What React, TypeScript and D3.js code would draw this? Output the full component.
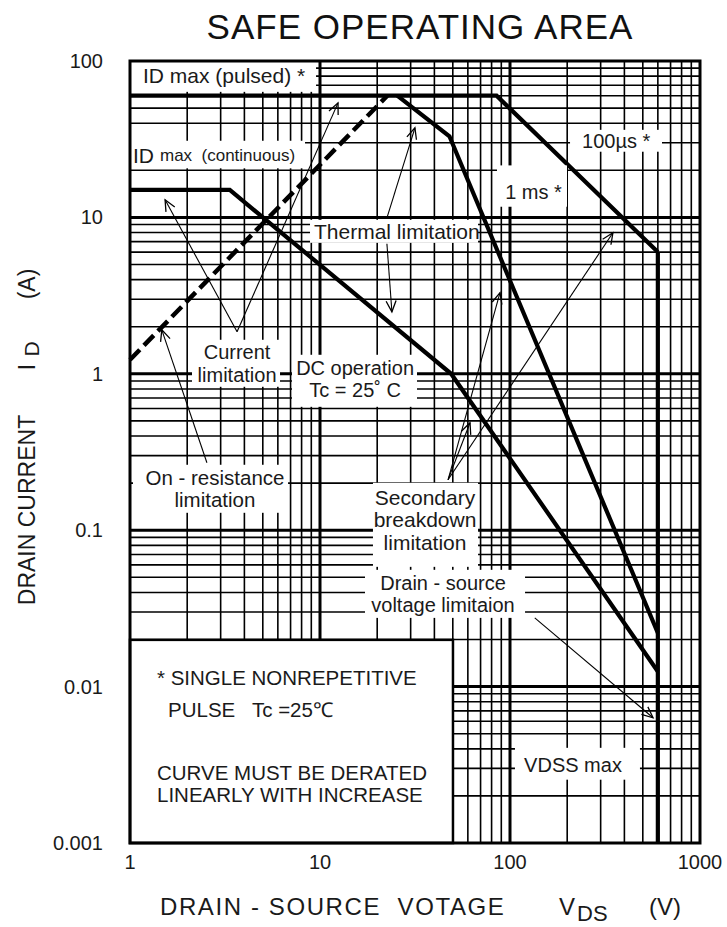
import React from "react";
import * as d3 from "d3";

const W = 727;
const H = 927;
const FONT = "'Liberation Sans', Arial, sans-serif";

// axis ticks
const xTicks = [1, 10, 100, 1000];
const xTickLabels = ["1", "10", "100", "1000"];
const yTicks = [100, 10, 1, 0.1, 0.01, 0.001];
const yTickLabels = ["100", "10", "1", "0.1", "0.01", "0.001"];
const xDecades = [1, 10, 100];
const yDecades = [0.001, 0.01, 0.1, 1, 10];
const minorSteps = [2, 3, 4, 5, 6, 7, 8, 9];

// SOA curves (VDS [V], ID [A])
const curve100us: [number, number][] = [[1, 60], [85, 60], [600, 6]];
const curve1ms: [number, number][] = [[25.5, 60], [48, 33], [600, 0.022]];
const curveDC: [number, number][] = [[1, 15], [3.35, 15], [49, 1], [600, 0.0125]];
const curveOnRes: [number, number][] = [[1, 1.23], [22.6, 60]];
const curveVdss: [number, number][] = [[600, 6], [600, 0.001]];

// white label boxes [x0, x1, y0, y1] in data coords
const boxes: [number, number, number, number][] = [
  [1, 9.53, 63.5, 100],
  [1, 8.34, 20.6, 30.9],
  [8.86, 67.9, 6.88, 9.65],
  [207, 631, 26.3, 36.3],
  [85.4, 199.5, 11.7, 21.5],
  [2.12, 6.16, 0.826, 1.65],
  [7.12, 32.4, 0.615, 1.323],
  [1.037, 6.79, 0.1292, 0.262],
  [19.0, 67.9, 0.0583, 0.201],
  [17.25, 120, 0.0275, 0.0558],
  [106.2, 483, 0.00254, 0.00406],
];

type Label = { x: number; y: number; t: string; size: number; anchor: string };
const labels: Label[] = [
  { x: 1.171, y: 81, t: "ID max (pulsed) *", size: 21, anchor: "start" },
  { x: 362, y: 31, t: "100µs *", size: 20, anchor: "middle" },
  { x: 133, y: 14.6, t: "1 ms *", size: 20, anchor: "middle" },
  { x: 9.3, y: 8.09, t: "Thermal limitation", size: 21, anchor: "start" },
  { x: 3.66, y: 1.383, t: "Current", size: 20, anchor: "middle" },
  { x: 3.66, y: 0.985, t: "limitation", size: 20, anchor: "middle" },
  { x: 15.3, y: 1.092, t: "DC operation", size: 20, anchor: "middle" },
  { x: 15.3, y: 0.79, t: "Tc = 25˚ C", size: 20, anchor: "middle" },
  { x: 2.8, y: 0.2163, t: "On - resistance", size: 20.5, anchor: "middle" },
  { x: 2.8, y: 0.1564, t: "limitation", size: 20.5, anchor: "middle" },
  { x: 35.7, y: 0.161, t: "Secondary", size: 21, anchor: "middle" },
  { x: 35.7, y: 0.1165, t: "breakdown", size: 21, anchor: "middle" },
  { x: 35.7, y: 0.0831, t: "limitation", size: 21, anchor: "middle" },
  { x: 44.4, y: 0.0461, t: "Drain - source", size: 20, anchor: "middle" },
  { x: 44.4, y: 0.0333, t: "voltage limitaion", size: 20, anchor: "middle" },
  { x: 214.6, y: 0.00316, t: "VDSS max", size: 20, anchor: "middle" },
  { x: 1.387, y: 0.01138, t: "* SINGLE NONREPETITIVE", size: 20.5, anchor: "start" },
  { x: 1.585, y: 0.0071, t: "PULSE   Tc =25℃", size: 20.5, anchor: "start" },
  { x: 1.387, y: 0.00281, t: "CURVE MUST BE DERATED", size: 20.5, anchor: "start" },
  { x: 1.387, y: 0.00203, t: "LINEARLY WITH INCREASE", size: 20.5, anchor: "start" },
];

// arrows: [tailX, tailY, headX, headY]
const arrows: [number, number, number, number][] = [
  [3.66, 1.856, 1.53, 12.96],
  [3.66, 1.856, 12.44, 54.0],
  [2.54, 0.27, 1.47, 1.91],
  [22.5, 9.94, 31.6, 37.4],
  [22.5, 6.78, 23.9, 2.49],
  [47.2, 0.21, 88.6, 3.3],
  [47.2, 0.21, 61.6, 0.486],
  [47.2, 0.21, 348, 7.97],
  [135, 0.0275, 566, 0.00632],
];

// note box
const noteBox: [number, number, number, number] = [1, 50.1, 0.001, 0.0199];

export default function App() {
  const x = d3.scaleLog().domain([1, 1000]).range([130, 700]);
  const y = d3.scaleLog().domain([0.001, 100]).range([843, 61]);
  const line = d3
    .line<[number, number]>()
    .x((d) => x(d[0]))
    .y((d) => y(d[1]));

  const xMinor = xDecades.flatMap((d) => minorSteps.map((k) => d * k));
  const yMinor = yDecades.flatMap((d) => minorSteps.map((k) => d * k));
  const [x0, x1] = x.range();
  const [y0, y1] = y.range();

  return (
    <svg
      width={W}
      height={H}
      style={{ position: "absolute", left: 0, top: 0, background: "#fff" }}
      fontFamily={FONT}
    >
      <defs>
        <marker
          id="ah"
          markerUnits="userSpaceOnUse"
          markerWidth={14}
          markerHeight={14}
          refX={12}
          refY={7}
          orient="auto"
        >
          <path d="M1,2 L12,7 L1,12" fill="none" stroke="#000" strokeWidth={1.3} />
        </marker>
      </defs>
      <rect x={0} y={0} width={W} height={H} fill="#fff" />
      {/* grid */}
      <g stroke="#000">
        {xMinor.map((v) => (
          <line key={"xm" + v} x1={x(v)} x2={x(v)} y1={y0} y2={y1} strokeWidth={1.6} />
        ))}
        {yMinor.map((v) => (
          <line key={"ym" + v} x1={x0} x2={x1} y1={y(v)} y2={y(v)} strokeWidth={1.6} />
        ))}
        {[10, 100].map((v) => (
          <line key={"xM" + v} x1={x(v)} x2={x(v)} y1={y0} y2={y1} strokeWidth={3} />
        ))}
        {[0.01, 0.1, 1, 10].map((v) => (
          <line key={"yM" + v} x1={x0} x2={x1} y1={y(v)} y2={y(v)} strokeWidth={3} />
        ))}
      </g>
      {/* curves */}
      <g fill="none" stroke="#000" strokeWidth={4.2} strokeLinejoin="miter">
        <path d={line(curve100us) || ""} />
        <path d={line(curve1ms) || ""} />
        <path d={line(curveDC) || ""} />
        <path d={line(curveVdss) || ""} />
        <path d={line(curveOnRes) || ""} strokeDasharray="14 6" strokeWidth={4.5} />
      </g>
      {/* arrows */}
      <g stroke="#000" strokeWidth={1.1}>
        {arrows.map((a, i) => (
          <line key={"a" + i} x1={x(a[0])} y1={y(a[1])} x2={x(a[2])} y2={y(a[3])} markerEnd="url(#ah)" />
        ))}
      </g>
      {/* label boxes */}
      <g fill="#fff">
        {boxes.map((b, i) => (
          <rect key={"b" + i} x={x(b[0])} y={y(b[3])} width={x(b[1]) - x(b[0])} height={y(b[2]) - y(b[3])} />
        ))}
      </g>
      {/* note box */}
      <rect
        x={x(noteBox[0])}
        y={y(noteBox[3])}
        width={x(noteBox[1]) - x(noteBox[0])}
        height={y(noteBox[2]) - y(noteBox[3])}
        fill="#fff"
        stroke="#000"
        strokeWidth={2.5}
      />
      {/* frame */}
      <rect x={x0} y={y1} width={x1 - x0} height={y0 - y1} fill="none" stroke="#000" strokeWidth={3} />
      {/* labels */}
      <g fill="#1a1a1a">
        {labels.map((l, i) => (
          <text
            key={"l" + i}
            x={x(l.x)}
            y={y(l.y)}
            fontSize={l.size}
            textAnchor={l.anchor}
            dominantBaseline="central"
            style={{ whiteSpace: "pre" }}
          >
            {l.t}
          </text>
        ))}
        <text x={x(1.037)} y={y(25.1)} dominantBaseline="central" style={{ whiteSpace: "pre" }}>
          <tspan fontSize={21}>ID</tspan>
          <tspan fontSize={17} dx={6}>max  (continuous)</tspan>
        </text>
      </g>
      {/* tick labels */}
      <g fill="#1a1a1a" fontSize={20}>
        {yTicks.map((v, i) => (
          <text key={"yt" + v} x={103} y={y(v)} textAnchor="end" dominantBaseline="central">
            {yTickLabels[i]}
          </text>
        ))}
        {xTicks.map((v, i) => (
          <text key={"xt" + v} x={x(v)} y={862} textAnchor="middle" dominantBaseline="central">
            {xTickLabels[i]}
          </text>
        ))}
      </g>
      {/* title */}
      <text x={420} y={26} fontSize={35} textAnchor="middle" dominantBaseline="central" letterSpacing={1} fill="#111">
        SAFE OPERATING AREA
      </text>
      {/* x axis title */}
      <g fill="#1a1a1a" fontSize={24}>
        <text x={160} y={906} dominantBaseline="central" letterSpacing={1.6} style={{ whiteSpace: "pre" }}>
          DRAIN - SOURCE  VOTAGE
        </text>
        <text x={559} y={906} dominantBaseline="central">V</text>
        <text x={577} y={913} fontSize={22} dominantBaseline="central">DS</text>
        <text x={649} y={906} dominantBaseline="central">(V)</text>
      </g>
      {/* y axis title */}
      <g fill="#1a1a1a" fontSize={23} transform="rotate(-90)">
        <text x={-510} y={27} textAnchor="middle" dominantBaseline="central">DRAIN CURRENT</text>
        <text x={-367} y={27} textAnchor="middle" dominantBaseline="central">I</text>
        <text x={-349} y={31} fontSize={21} textAnchor="middle" dominantBaseline="central">D</text>
        <text x={-284} y={27} textAnchor="middle" dominantBaseline="central">(A)</text>
      </g>
    </svg>
  );
}
